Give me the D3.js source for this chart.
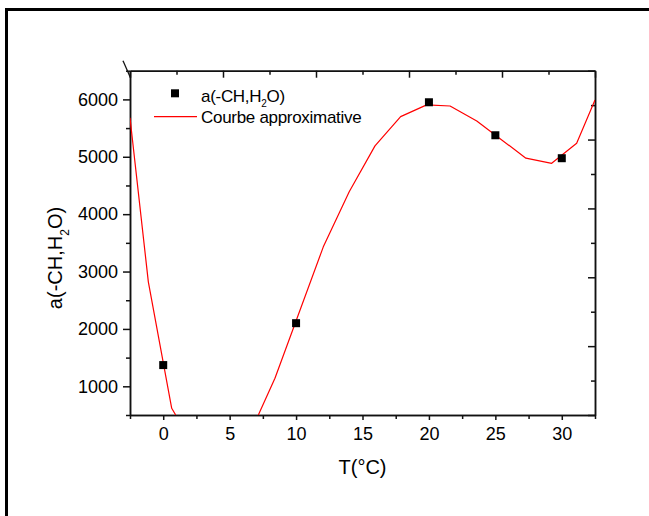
<!DOCTYPE html>
<html>
<head>
<meta charset="utf-8">
<script src="https://cdn.jsdelivr.net/npm/d3@7"></script>
<style>
  html, body { margin: 0; padding: 0; background: #fff; }
  svg { display: block; font-family: "Liberation Sans", Arial, Helvetica, sans-serif; }
</style>
</head>
<body>
<script>
// Measured coefficient a(-CH,H2O) at each temperature
const temps = [0, 10, 20, 25, 30];
const coefValues = [1370, 2100, 5950, 5375, 4975];

// Vertices of the approximating curve (null marks where it leaves the plotted range)
const curveTemps  = [-2.5, -1.12, 0.64, 0.94, null, 7.16, 8.41, 12.05, 14.0, 15.94, 17.87, 19.83, 21.59, 23.6, 27.3, 29.24, 31.12, 32.5];
const curveValues = [5680, 2820,  617,  500,  null, 500,  1140, 3430,  4390, 5190,  5700,  5905,  5885,  5625, 4975, 4886,  5235,  5990];

// Tick values
const xTicks = [0, 5, 10, 15, 20, 25, 30];
const xMinorTicks = [-2.5, 2.5, 7.5, 12.5, 17.5, 22.5, 27.5, 32.5];
const yTicks = [1000, 2000, 3000, 4000, 5000, 6000];
const yMinorTicks = [500, 1500, 2500, 3500, 4500, 5500, 6500];
const topTicks = [0, 2, 4, 6, 8, 10];
const topMinorTicks = [1, 3, 5, 7, 9];
const rightTicks = [0, 2, 4, 6, 8, 10];
const rightMinorTicks = [1, 3, 5, 7, 9];

const W = 649, H = 516;
const plot = { left: 130, right: 595, top: 70.7, bottom: 415 };

const svg = d3.select("body").append("svg")
  .attr("width", W).attr("height", H);

svg.append("rect").attr("width", W).attr("height", H).attr("fill", "#fff");

// outer frame (left and top edges)
svg.append("path")
  .attr("d", `M6.5,${H} V9.5 H${W}`)
  .attr("fill", "none").attr("stroke", "#000").attr("stroke-width", 3);

const x = d3.scaleLinear().domain([-2.5, 32.5]).range([plot.left, plot.right]);
const y = d3.scaleLinear().domain([500, 6500]).range([plot.bottom, plot.top]);
const xTop = d3.scaleLinear().domain([0, 10]).range([plot.left, plot.right]);
const yRight = d3.scaleLinear().domain([0, 10]).range([plot.bottom, plot.top]);

function styleAxis(g) {
  g.selectAll(".domain").attr("stroke", "#111").attr("stroke-width", 1.5);
  g.selectAll(".tick line").attr("stroke", "#111").attr("stroke-width", 1.5);
  g.selectAll(".tick text").attr("fill", "#000")
    .attr("font-family", "Liberation Sans, Arial, sans-serif").attr("font-size", 18);
}

// bottom axis
svg.append("g").attr("transform", `translate(0,${plot.bottom})`)
  .call(d3.axisBottom(x).tickValues(xMinorTicks).tickSize(4).tickSizeOuter(0).tickFormat(""))
  .call(styleAxis);
svg.append("g").attr("transform", `translate(0,${plot.bottom})`)
  .call(d3.axisBottom(x).tickValues(xTicks).tickSize(5).tickSizeOuter(0).tickPadding(7).tickFormat(d3.format("d")))
  .call(styleAxis);

// left axis
svg.append("g").attr("transform", `translate(${plot.left},0)`)
  .call(d3.axisLeft(y).tickValues(yMinorTicks).tickSize(4).tickSizeOuter(0).tickFormat(""))
  .call(styleAxis);
svg.append("g").attr("transform", `translate(${plot.left},0)`)
  .call(d3.axisLeft(y).tickValues(yTicks).tickSize(7).tickSizeOuter(0).tickPadding(5).tickFormat(d3.format("d")))
  .call(styleAxis);

// top axis, ticks pointing inward
svg.append("g").attr("transform", `translate(0,${plot.top})`)
  .call(d3.axisTop(xTop).tickValues(topMinorTicks).tickSize(-4).tickSizeOuter(0).tickFormat(""))
  .call(styleAxis);
svg.append("g").attr("transform", `translate(0,${plot.top})`)
  .call(d3.axisTop(xTop).tickValues(topTicks).tickSize(-7).tickSizeOuter(0).tickFormat(""))
  .call(styleAxis);

// right axis, ticks pointing inward
svg.append("g").attr("transform", `translate(${plot.right},0)`)
  .call(d3.axisRight(yRight).tickValues(rightMinorTicks).tickSize(-4).tickSizeOuter(0).tickFormat(""))
  .call(styleAxis);
svg.append("g").attr("transform", `translate(${plot.right},0)`)
  .call(d3.axisRight(yRight).tickValues(rightTicks).tickSize(-7).tickSizeOuter(0).tickFormat(""))
  .call(styleAxis);

// small slanted stroke at the top-left corner
svg.append("line")
  .attr("x1", plot.left - 7).attr("y1", plot.top - 10)
  .attr("x2", plot.left + 0.5).attr("y2", plot.top + 7)
  .attr("stroke", "#111").attr("stroke-width", 1.3);

// clip region for the data
svg.append("clipPath").attr("id", "plotClip")
  .append("rect")
  .attr("x", plot.left).attr("y", plot.top)
  .attr("width", plot.right - plot.left).attr("height", plot.bottom - plot.top);

// approximating curve
const line = d3.line()
  .defined(i => curveValues[i] !== null && curveTemps[i] !== null)
  .x(i => x(curveTemps[i]))
  .y(i => y(curveValues[i]));

svg.append("path")
  .attr("clip-path", "url(#plotClip)")
  .attr("d", line(d3.range(curveTemps.length)))
  .attr("fill", "none")
  .attr("stroke", "#ff0000")
  .attr("stroke-width", 1.2)
  .attr("stroke-linejoin", "round");

// measured points
const sq = 8;
svg.append("g").selectAll("rect")
  .data(d3.range(temps.length))
  .join("rect")
  .attr("x", i => x(temps[i]) - sq / 2)
  .attr("y", i => y(coefValues[i]) - sq / 2)
  .attr("width", sq).attr("height", sq)
  .attr("fill", "#000");

// legend
const lg = svg.append("g");
lg.append("rect")
  .attr("x", 171).attr("y", 89.3).attr("width", 8).attr("height", 8).attr("fill", "#000");
const t1 = lg.append("text").attr("x", 201).attr("y", 101.7)
  .attr("font-size", 17).attr("letter-spacing", -0.3).attr("fill", "#000");
t1.append("tspan").text("a(-CH,H");
t1.append("tspan").attr("font-size", 10).attr("dy", 5).text("2");
t1.append("tspan").attr("dy", -5).text("O)");

lg.append("line")
  .attr("x1", 154).attr("x2", 197).attr("y1", 116.7).attr("y2", 116.7)
  .attr("stroke", "#ff0000").attr("stroke-width", 1.2);
lg.append("text").attr("x", 201).attr("y", 122.7)
  .attr("font-size", 17).attr("letter-spacing", -0.3).attr("fill", "#000")
  .text("Courbe approximative");

// axis titles
svg.append("text")
  .attr("x", (plot.left + plot.right) / 2).attr("y", 474)
  .attr("text-anchor", "middle").attr("font-size", 20).attr("fill", "#000")
  .text("T(°C)");

const yt = svg.append("text")
  .attr("transform", "translate(62,258) rotate(-90)")
  .attr("text-anchor", "middle").attr("font-size", 20).attr("fill", "#000");
yt.append("tspan").text("a(-CH,H");
yt.append("tspan").attr("font-size", 12).attr("dy", 7).text("2");
yt.append("tspan").attr("dy", -7).text("O)");
</script>
</body>
</html>
